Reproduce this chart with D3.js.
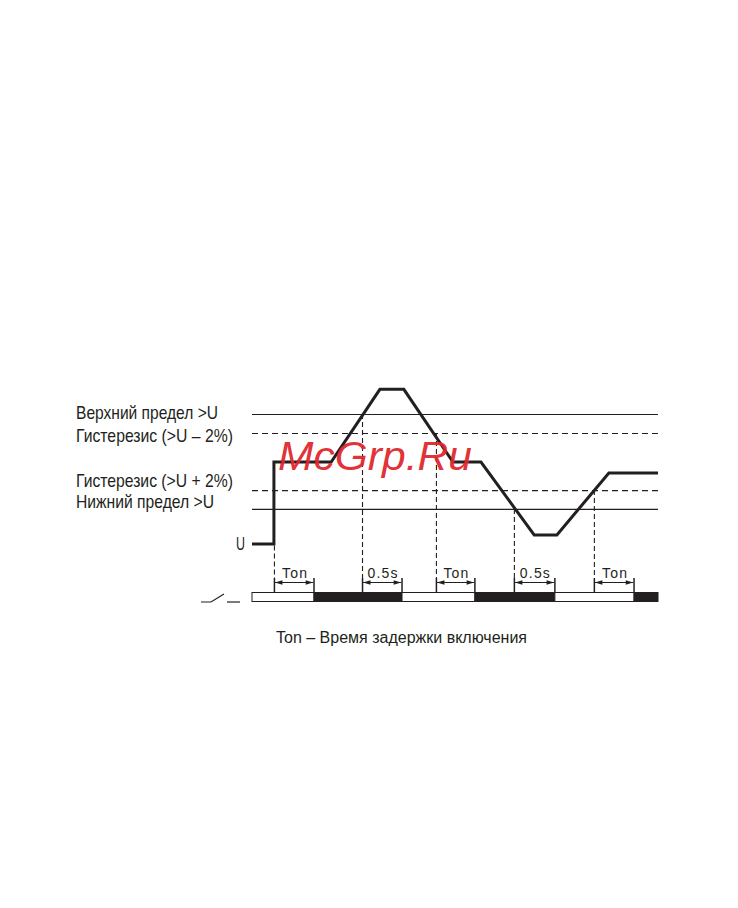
<!DOCTYPE html>
<html>
<head>
<meta charset="utf-8">
<script src="https://cdn.jsdelivr.net/npm/d3@7"></script>
<style>
  html, body { margin: 0; padding: 0; background: #fff; }
  svg { display: block; }
  .lbl { font-family: "Liberation Sans", Arial, sans-serif; fill: #231f20; }
</style>
</head>
<body>
<svg id="chart" width="738" height="908"></svg>
<script>
// ---- data (time units 0..100, voltage units 0..120) ----
const thresholdNames = ["Верхний предел >U", "Гистерезис (>U – 2%)", "Гистерезис (>U + 2%)", "Нижний предел >U"];
const thresholdValues = [100, 85.4, 41.5, 27];
const thresholdDashed = [false, true, true, false];

const signalT = [0, 5.4, 5.4, 19.5, 31.5, 37.4, 49.5, 56.4, 69.5, 75.1, 87.9, 100];
const signalV = [0, 0, 63, 63, 119, 119, 63, 63, 7, 7, 54.6, 54.6];

const eventT = [5.4, 27.1, 45.3, 64.5, 84.2];
const eventV = [0, 100, 85.4, 27, 41.5];

const intervalStart = [5.4, 27.1, 45.3, 64.5, 84.2];
const intervalEnd = [15.27, 36.95, 54.9, 74.6, 94.1];
const intervalLabel = ["Ton", "0.5s", "Ton", "0.5s", "Ton"];

const relayStart = [0, 15.27, 36.95, 54.9, 74.6, 94.1];
const relayEnd = [15.27, 36.95, 54.9, 74.6, 94.1, 100];
const relayOn = [false, true, false, true, false, true];

const caption = "Ton – Время задержки включения";
const uLabel = "U";
const watermark = "McGrp.Ru";

// ---- scales ----
const x = d3.scaleLinear().domain([0, 100]).range([252, 658]);
const y = d3.scaleLinear().domain([0, 120]).range([544, 388]);

const svg = d3.select("#chart");
const ink = "#231f20";

// arrow markers
const defs = svg.append("defs");
defs.append("marker").attr("id", "arrE").attr("viewBox", "0 0 10 6").attr("refX", 10).attr("refY", 3)
  .attr("markerWidth", 8).attr("markerHeight", 4.5).attr("markerUnits", "userSpaceOnUse").attr("orient", "auto")
  .append("path").attr("d", "M0,0 L10,3 L0,6 Z").attr("fill", ink);
defs.append("marker").attr("id", "arrS").attr("viewBox", "0 0 10 6").attr("refX", 0).attr("refY", 3)
  .attr("markerWidth", 8).attr("markerHeight", 4.5).attr("markerUnits", "userSpaceOnUse").attr("orient", "auto")
  .append("path").attr("d", "M10,0 L0,3 L10,6 Z").attr("fill", ink);

// threshold lines
svg.append("g").selectAll("line").data(thresholdValues).join("line")
  .attr("x1", x(0)).attr("x2", x(100))
  .attr("y1", d => y(d) + 0.5).attr("y2", d => y(d) + 0.5)
  .attr("stroke", ink).attr("stroke-width", 1.2)
  .attr("stroke-dasharray", (d, i) => thresholdDashed[i] ? "6,4" : null);

// threshold labels
const labelY = [418.5, 441.5, 486.5, 507.5];
const labelW = [142, 157, 157, 138];
svg.append("g").selectAll("text").data(thresholdNames).join("text")
  .attr("class", "lbl").attr("x", 76).attr("y", (d, i) => labelY[i])
  .attr("font-size", 18.5)
  .attr("textLength", (d, i) => labelW[i]).attr("lengthAdjust", "spacingAndGlyphs")
  .text(d => d);

// event dashed lines
const barTop = 592, barH = 9, tickTop = 578;
svg.append("g").selectAll("line").data(eventT).join("line")
  .attr("x1", d => x(d) + 0.5).attr("x2", d => x(d) + 0.5)
  .attr("y1", (d, i) => y(eventV[i]) + (i === 0 ? 1.5 : 0)).attr("y2", tickTop)
  .attr("stroke", ink).attr("stroke-width", 1.1).attr("stroke-dasharray", "5,3");
svg.append("g").selectAll("line").data(eventT).join("line")
  .attr("x1", d => x(d) + 0.5).attr("x2", d => x(d) + 0.5)
  .attr("y1", tickTop).attr("y2", barTop)
  .attr("stroke", ink).attr("stroke-width", 1.5);
svg.append("g").selectAll("line").data(intervalEnd).join("line")
  .attr("x1", d => x(d)).attr("x2", d => x(d))
  .attr("y1", tickTop).attr("y2", barTop)
  .attr("stroke", ink).attr("stroke-width", 1.5);

// dimension arrows
svg.append("g").selectAll("line").data(intervalStart).join("line")
  .attr("x1", d => x(d) + 1).attr("x2", (d, i) => x(intervalEnd[i]) - 0.8)
  .attr("y1", 582.5).attr("y2", 582.5)
  .attr("stroke", ink).attr("stroke-width", 1)
  .attr("marker-start", "url(#arrS)").attr("marker-end", "url(#arrE)");
const intervalLabelW = intervalLabel.map(d => d === "Ton" ? 25 : 30);
svg.append("g").selectAll("text").data(intervalLabel).join("text")
  .attr("class", "lbl").attr("font-size", 14)
  .attr("x", (d, i) => (x(intervalStart[i]) + x(intervalEnd[i])) / 2 - intervalLabelW[i] / 2 + 0.5)
  .attr("y", 577.5)
  .attr("textLength", (d, i) => intervalLabelW[i]).attr("lengthAdjust", "spacing")
  .text(d => d);

// relay bar
svg.append("g").selectAll("rect").data(relayStart).join("rect")
  .attr("x", d => x(d)).attr("width", (d, i) => x(relayEnd[i]) - x(d))
  .attr("y", barTop + 0.5).attr("height", barH)
  .attr("fill", (d, i) => relayOn[i] ? ink : "#fff")
  .attr("stroke", ink).attr("stroke-width", 1);

// switch symbol
const sw = svg.append("g").attr("stroke", ink).attr("stroke-width", 1.2).attr("fill", "none");
sw.append("path").attr("d", "M201,602 L211,602 L224,594");
sw.append("path").attr("d", "M227,602 L240,602");

// signal
const line = d3.line().x(d => x(d[0])).y(d => y(d[1]));
svg.append("path").datum(signalT.map((t, i) => [t, signalV[i]]))
  .attr("d", line).attr("fill", "none").attr("stroke", ink)
  .attr("stroke-width", 3).attr("stroke-linejoin", "miter");

// U label
svg.append("text").attr("class", "lbl").attr("x", 236).attr("y", 550)
  .attr("font-size", 18.5).attr("textLength", 9).attr("lengthAdjust", "spacingAndGlyphs").text(uLabel);

// caption
svg.append("text").attr("class", "lbl").attr("x", 276).attr("y", 643)
  .attr("font-size", 16).attr("textLength", 251).attr("lengthAdjust", "spacingAndGlyphs").text(caption);

// watermark
svg.append("text").attr("x", 278).attr("y", 470)
  .attr("font-family", "Liberation Sans, Arial, sans-serif").attr("font-style", "italic")
  .attr("font-size", 41).attr("fill", "#e0262b").attr("fill-opacity", 0.95)
  .attr("textLength", 194).attr("lengthAdjust", "spacingAndGlyphs").text(watermark);
</script>
</body>
</html>
